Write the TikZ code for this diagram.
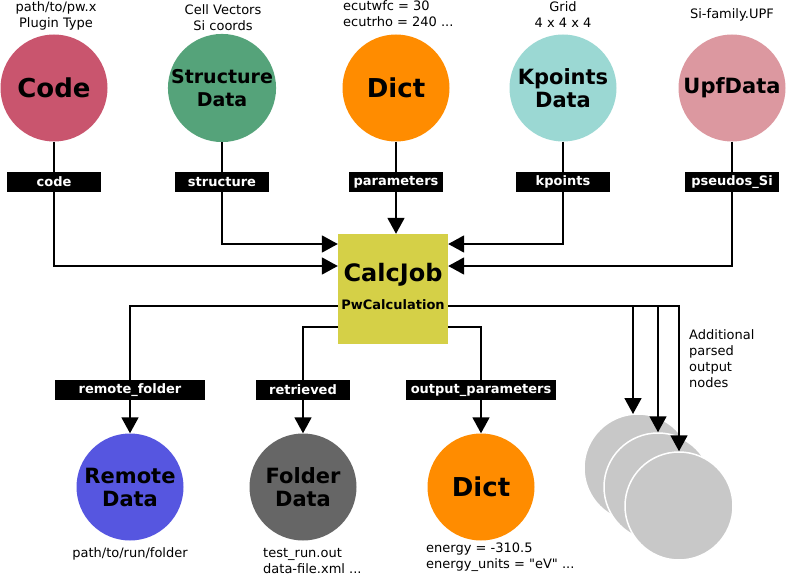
\documentclass[tikz,border=0pt]{standalone}
\usepackage{fontspec}
\setmainfont{DejaVu Sans}[Ligatures=TeXOff]
\usetikzlibrary{arrows.meta}
\definecolor{ccode}{HTML}{C9556E}
\definecolor{cstruct}{HTML}{55A37A}
\definecolor{cdict}{HTML}{FF8C00}
\definecolor{ckpt}{HTML}{9BD8D3}
\definecolor{cupf}{HTML}{DC98A0}
\definecolor{cremote}{HTML}{5656E0}
\definecolor{cfolder}{HTML}{666666}
\definecolor{ccalc}{HTML}{D5D047}
\definecolor{cgray}{HTML}{C8C8C8}
\begin{document}
\begin{tikzpicture}[x=1pt,y=-1pt,
  datanode/.style={circle, minimum size=107pt, inner sep=0pt, align=center,
    font=\bfseries\fontsize{21}{23}\selectfont},
  lbl/.style={fill=black, text=white, minimum width=94pt, minimum height=20pt,
    inner sep=0pt, font=\bfseries\fontsize{13}{15}\selectfont},
  note/.style={font=\fontsize{13}{16}\selectfont, align=center, inner sep=0pt},
  notel/.style={font=\fontsize{13}{16}\selectfont, align=left, inner sep=0pt, anchor=west},
  conn/.style={line width=1.8pt},
  arr/.style={conn, -{Triangle[length=16pt,width=17pt]}},
  ghost/.style={circle, minimum size=108pt, inner sep=0pt, fill=cgray, draw=white, line width=1.5pt}
]
\useasboundingbox (0,0) rectangle (787,575);

% input nodes
\node[datanode, fill=ccode, font=\bfseries\fontsize{26}{28}\selectfont] (code) at (54,88) {Code};
\node[datanode, fill=cstruct, font=\bfseries\fontsize{19}{23}\selectfont] (struct) at (222,88) {Structure\\Data};
\node[datanode, fill=cdict, font=\bfseries\fontsize{26}{28}\selectfont] (dict) at (396,88) {Dict};
\node[datanode, fill=ckpt] (kpt) at (563,88) {Kpoints\\Data};
\node[datanode, fill=cupf] (upf) at (732,88) {UpfData};

\node[note] (ncode) at (56,15.5) {path/to/pw.x\\Plugin Type};
\node[note] (nstruct) at (223,18) {Cell Vectors\\Si coords};
\node[notel] (ndict) at (343,14) {ecutwfc = 30\\ecutrho = 240 ...};
\node[note] (nkpt) at (563,14.5) {Grid\\4 x 4 x 4};
\node[note] (nupf) at (732,15) {Si-family.UPF};

% input labels
\node[lbl] (lcode) at (54,182) {code};
\node[lbl] (lstruct) at (222,182) {structure};
\node[lbl] (ldict) at (396,182) {parameters};
\node[lbl] (lkpt) at (563,182) {kpoints};
\node[lbl] (lupf) at (732,182) {pseudos\_Si};

% calcjob
\node[fill=ccalc, minimum size=110pt, inner sep=0pt] (calc) at (393,289) {};
\node[font=\bfseries\fontsize{24}{26}\selectfont, inner sep=0pt] (calct) at (393,275) {CalcJob};
\node[font=\bfseries\fontsize{13}{15}\selectfont, inner sep=0pt] (calcs) at (393,305) {PwCalculation};

\coordinate (inA) at ([yshift=45pt]calc.west);
\coordinate (inB) at ([yshift=23pt]calc.west);
\coordinate (inC) at ([yshift=45pt]calc.east);
\coordinate (inD) at ([yshift=23pt]calc.east);
\coordinate (outA) at ([yshift=-17pt]calc.west);
\coordinate (outB) at ([yshift=-38pt]calc.west);
\coordinate (outC) at ([yshift=-38pt]calc.east);
\coordinate (outD) at ([yshift=-17pt]calc.east);

\draw[conn] (code) -- (lcode);
\draw[conn] (struct) -- (lstruct);
\draw[conn] (dict) -- (ldict);
\draw[conn] (kpt) -- (lkpt);
\draw[conn] (upf) -- (lupf);
\draw[arr] (lcode.south) |- (inB);
\draw[arr] (lstruct.south) |- (inA);
\draw[arr] (ldict.south) -- (ldict.south |- calc.north);
\draw[arr] (lkpt.south) |- (inC);
\draw[arr] (lupf.south) |- (inD);

% outputs
\node[datanode, fill=cremote] (remote) at (130,487) {Remote\\Data};
\node[datanode, fill=cfolder] (folder) at (303,487) {Folder\\Data};
\node[datanode, fill=cdict, font=\bfseries\fontsize{26}{28}\selectfont] (odict) at (481,487) {Dict};

\node[lbl, minimum width=150pt] (lremote) at (130,390) {remote\_folder};
\node[lbl] (lfolder) at (303,390) {retrieved};
\node[lbl, minimum width=150pt] (lodict) at (481,390) {output\_parameters};

\node[note] (nremote) at (130,554) {path/to/run/folder};
\node[notel, font=\fontsize{13}{15.5}\selectfont] (nfolder) at (263,561) {test\_run.out\\data-file.xml ...};
\node[notel] (nodict) at (426,557.5) {energy = -310.5\\energy\_units = "eV" ...};

\draw[conn] (outA) -| (lremote.north);
\draw[arr] (lremote.south) -- (remote.north);
\draw[conn] (outB) -| (lfolder.north);
\draw[arr] (lfolder.south) -- (folder.north);
\draw[conn] (outC) -| (lodict.north);
\draw[arr] (lodict.south) -- (odict.north);

% additional outputs
\node[ghost] (g1) at (638,468) {};
\node[ghost] (g2) at (658,487) {};
\node[ghost] (g3) at (679,506) {};
\node[notel] (nadd) at (689,358.5) {Additional\\parsed\\output\\nodes};

\coordinate (b1) at (633,306);
\coordinate (b2) at (658,306);
\draw[arr] (outD) -| (g3.north);
\draw[arr] (b1) -- (633,414);
\draw[arr] (b2) -- (g2.north);
\end{tikzpicture}
\end{document}
